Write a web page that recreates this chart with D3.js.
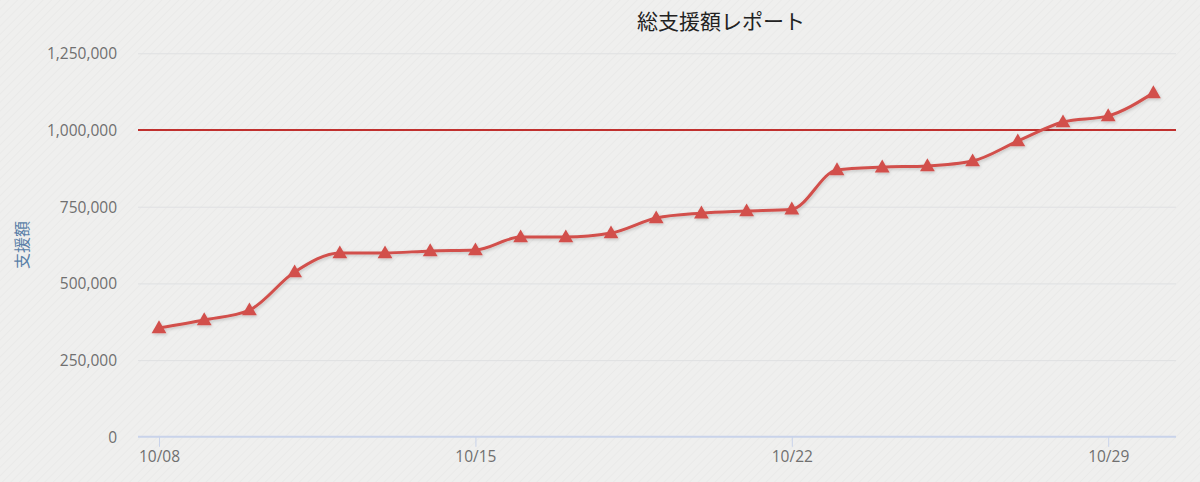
<!DOCTYPE html>
<html><head><meta charset="utf-8">
<script src="https://cdn.jsdelivr.net/npm/d3@7"></script>
<style>
html,body{margin:0;padding:0;background:#efefee;}
svg{display:block;}
text{font-family:"Noto Sans CJK JP","Noto Sans",sans-serif;}
.num{font-family:"Open Sans","Noto Sans",sans-serif;}
</style></head><body>
<div id="chart"></div>
<script>
const dates = ["10/08","10/09","10/10","10/11","10/12","10/13","10/14","10/15","10/16","10/17","10/18","10/19","10/20","10/21","10/22","10/23","10/24","10/25","10/26","10/27","10/28","10/29","10/30"];
const totals = [355000,381000,413000,537000,599000,599000,606000,609000,651000,651000,664000,713000,729000,736000,742000,870000,879000,883000,899000,964000,1026000,1046000,1121000];
const yTicks = [0,250000,500000,750000,1000000,1250000];
const xTickLabels = ["10/08","10/15","10/22","10/29"];
const targetValue = 1000000;
const titleText = "総支援額レポート";
const yTitle = "支援額";

const W = 1200, H = 482;
const plotLeft = 138, plotRight = 1176, plotTop = 53.3, plotBottom = 436.8;

const svg = d3.select("#chart").append("svg").attr("width", W).attr("height", H);

// subtle texture
const defs = svg.append("defs");
const pat = defs.append("pattern").attr("id","tex").attr("width",6).attr("height",6)
  .attr("patternUnits","userSpaceOnUse").attr("patternTransform","rotate(45)");
pat.append("rect").attr("width",6).attr("height",6).attr("fill","#efefee");
pat.append("line").attr("x1",0).attr("y1",0).attr("x2",0).attr("y2",6).attr("stroke","#e8e8e7").attr("stroke-width",1.2);
svg.append("rect").attr("width",W).attr("height",H).attr("fill","url(#tex)");

const flt = defs.append("filter").attr("id","shadow").attr("x","-5%").attr("y","-20%").attr("width","110%").attr("height","140%");
flt.append("feDropShadow").attr("dx",1).attr("dy",1.5).attr("stdDeviation",1.5).attr("flood-color","#000").attr("flood-opacity",0.18);

const x = d3.scaleLinear().domain([-0.465, dates.length - 1 + 0.5]).range([plotLeft, plotRight]);
const y = d3.scaleLinear().domain([0, 1250000]).range([plotBottom, plotTop]);

// grid lines
const yAxis = d3.axisLeft(y).tickValues(yTicks).tickSize(-(plotRight-plotLeft)).tickPadding(21)
  .tickFormat(d3.format(","));
const gy = svg.append("g").attr("transform",`translate(${plotLeft},0)`).call(yAxis);
gy.select(".domain").remove();
gy.selectAll(".tick line").attr("stroke","#dfe0e2").attr("stroke-width",1);
gy.selectAll(".tick").filter(d => d === 0).select("line").remove();
gy.selectAll(".tick text").attr("class","num").attr("fill","#707070").attr("font-size",15.5).attr("dy","0.36em");

// x axis
const xIdx = xTickLabels.map(l => dates.indexOf(l));
const xAxis = d3.axisBottom(x).tickValues(xIdx).tickSize(10).tickPadding(4)
  .tickFormat(i => dates[i]);
const gx = svg.append("g").attr("transform",`translate(0,${plotBottom})`).call(xAxis);
gx.select(".domain").attr("stroke","#c9d3ea").attr("stroke-width",2).attr("d",`M${plotLeft},0H${plotRight}`);
gx.selectAll(".tick line").attr("stroke","#c9d3ea").attr("stroke-width",1);
gx.selectAll(".tick text").attr("class","num").attr("fill","#707070").attr("font-size",15.5);

// target line
svg.append("line").attr("x1",plotLeft).attr("x2",plotRight).attr("y1",y(targetValue)).attr("y2",y(targetValue))
  .attr("stroke","#c0302e").attr("stroke-width",2);

// series
const line = d3.line().x((d,i)=>x(i)).y(d=>y(d)).curve(d3.curveMonotoneX);
const g = svg.append("g").attr("filter","url(#shadow)");
g.append("path").datum(totals).attr("d",line).attr("fill","none")
  .attr("stroke","#d2504c").attr("stroke-width",3);
const tri = d3.symbol().type(d3.symbolTriangle).size(95);
g.selectAll(".m").data(totals).join("path")
  .attr("transform",(d,i)=>`translate(${x(i)},${y(d)+1})`)
  .attr("d",tri).attr("fill","#d2504c");

// title
svg.append("text").attr("x",721).attr("y",29).attr("text-anchor","middle")
  .attr("font-size",21).attr("fill","#222").text(titleText);

// y title
svg.append("text").attr("transform",`translate(28,245) rotate(-90)`).attr("text-anchor","middle")
  .attr("font-size",16).attr("fill","#5a7fa8").text(yTitle);
</script>
</body></html>
